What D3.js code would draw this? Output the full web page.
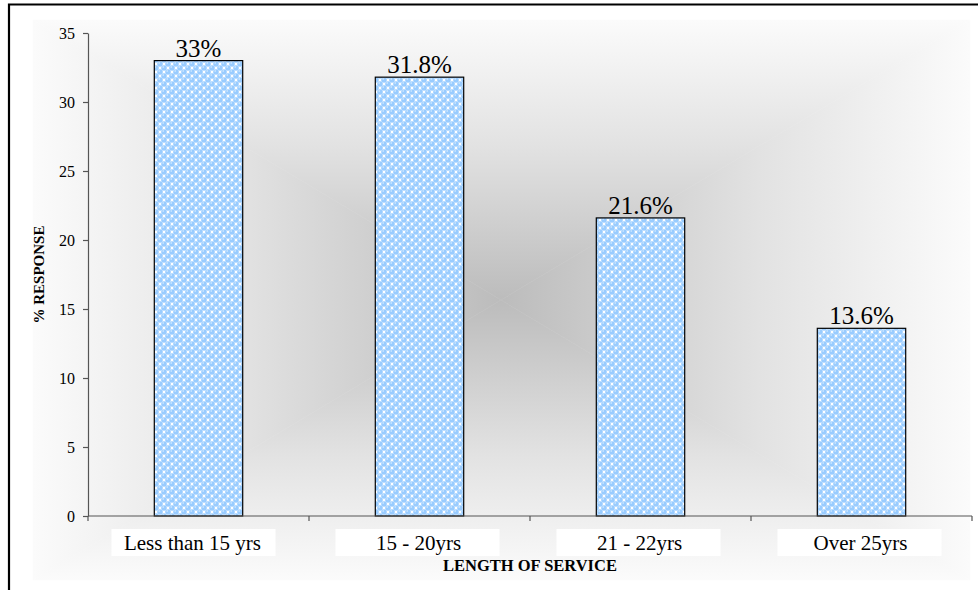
<!DOCTYPE html>
<html>
<head>
<meta charset="utf-8">
<script src="https://cdn.jsdelivr.net/npm/d3@7"></script>
<style>
  html, body { margin: 0; padding: 0; background: #ffffff; }
  svg { display: block; }
  svg text { font-family: "Liberation Serif", "DejaVu Serif", "Times New Roman", serif; }
</style>
</head>
<body>
<svg id="chart" width="978" height="590"></svg>
<script>
// Survey responses by length of service
const categories = ["Less than 15 yrs", "15 - 20yrs", "21 - 22yrs", "Over 25yrs"];
const responses = [33, 31.8, 21.6, 13.6];
const valueLabels = ["33%", "31.8%", "21.6%", "13.6%"];
const yTicks = [0, 5, 10, 15, 20, 25, 30, 35];

const svg = d3.select("#chart");
const W = 978, H = 590;
const serif = '"Liberation Serif", "DejaVu Serif", "Times New Roman", serif';

const margin = { left: 88, right: 6, top: 33, bottom: 74 };
const plot = { x0: margin.left, x1: W - margin.right, y0: margin.top, y1: H - margin.bottom };

const x = d3.scaleBand().domain(categories).range([plot.x0, plot.x1]).paddingInner(0).paddingOuter(0);
const y = d3.scaleLinear().domain([0, 35]).range([plot.y1, plot.y0]);

const defs = svg.append("defs");

// Sphere fill for the bars
const pat = defs.append("pattern")
  .attr("id", "spheres").attr("patternUnits", "userSpaceOnUse")
  .attr("width", 8).attr("height", 8);
pat.append("rect").attr("width", 8).attr("height", 8).attr("fill", "#ffffff");
[[0, 0], [8, 0], [0, 8], [8, 8], [4, 4]].forEach(([cx, cy]) => {
  pat.append("circle").attr("cx", cx).attr("cy", cy).attr("r", 2.8).attr("fill", "#99ccff");
  pat.append("circle").attr("cx", cx - 0.8).attr("cy", cy - 1).attr("r", 0.8).attr("fill", "#dcefff");
});

// Rectangular "from centre" shaded backdrop built from four triangles
const bg = { x0: 33, x1: 970, y0: 20, y1: 580 };
const cx = 501, cy = 300;
function lin(id, x1, y1, x2, y2) {
  const g = defs.append("linearGradient").attr("id", id).attr("gradientUnits", "userSpaceOnUse")
    .attr("x1", x1).attr("y1", y1).attr("x2", x2).attr("y2", y2);
  g.append("stop").attr("offset", 0).attr("stop-color", "#fbfbfb");
  g.append("stop").attr("offset", 0.45).attr("stop-color", "#e2e2e2");
  g.append("stop").attr("offset", 1).attr("stop-color", "#bcbcbc");
}
lin("gTop", cx, bg.y0, cx, cy);
lin("gBot", cx, bg.y1, cx, cy);
lin("gLeft", bg.x0, cy, cx, cy);
lin("gRight", bg.x1, cy, cx, cy);
const tri = [
  { id: "gTop", pts: [[bg.x0, bg.y0], [bg.x1, bg.y0], [cx, cy]] },
  { id: "gBot", pts: [[bg.x0, bg.y1], [bg.x1, bg.y1], [cx, cy]] },
  { id: "gLeft", pts: [[bg.x0, bg.y0], [bg.x0, bg.y1], [cx, cy]] },
  { id: "gRight", pts: [[bg.x1, bg.y0], [bg.x1, bg.y1], [cx, cy]] }
];
svg.append("g").selectAll("path").data(tri).join("path")
  .attr("d", d => "M" + d.pts.map(p => p.join(",")).join("L") + "Z")
  .attr("fill", d => `url(#${d.id})`)
  .attr("stroke", d => `url(#${d.id})`).attr("stroke-width", 0.6);

// Outer frame (only top and left edges fall inside the view)
svg.append("path")
  .attr("d", `M9,${H + 5}V4.5H${W + 5}`)
  .attr("fill", "none").attr("stroke", "#000").attr("stroke-width", 2.2);

// Category label boxes
const boxW = 164, boxH = 27;
svg.append("g").selectAll("rect").data(categories).join("rect")
  .attr("x", (d, i) => x(d) + x.bandwidth() / 2 - boxW / 2 - (i === 0 ? 5 : 2))
  .attr("y", plot.y1 + 13)
  .attr("width", boxW).attr("height", boxH)
  .attr("fill", "#ffffff");

// Bars
const barW = x.bandwidth() * 0.4;
svg.append("g").selectAll("rect").data(categories).join("rect")
  .attr("x", d => x(d) + (x.bandwidth() - barW) / 2)
  .attr("y", (d, i) => y(responses[i]))
  .attr("width", barW)
  .attr("height", (d, i) => y(0) - y(responses[i]))
  .attr("fill", "url(#spheres)")
  .attr("stroke", "#000").attr("stroke-width", 1.2);

// Value labels
svg.append("g").selectAll("text").data(categories).join("text")
  .attr("x", d => x(d) + x.bandwidth() / 2)
  .attr("y", (d, i) => y(responses[i]) - 4)
  .attr("text-anchor", "middle")
  .style("font-family", serif).attr("font-size", 25)
  .attr("fill", "#000")
  .text((d, i) => valueLabels[i]);

// Y axis
const yAxis = svg.append("g").attr("transform", `translate(${plot.x0},0)`)
  .call(d3.axisLeft(y).tickValues(yTicks).tickSize(5).tickSizeOuter(0).tickPadding(8));
yAxis.select(".domain").attr("stroke", "#555").attr("stroke-width", 1.2);
yAxis.selectAll(".tick line").attr("stroke", "#555").attr("stroke-width", 1.2);
yAxis.selectAll(".tick text").style("font-family", serif).attr("font-size", 16).attr("fill", "#000");

// X axis with ticks between categories
const bounds = categories.map(c => x(c)).concat([plot.x1]);
const xAxis = svg.append("g");
xAxis.append("line")
  .attr("x1", plot.x0).attr("x2", plot.x1).attr("y1", y(0)).attr("y2", y(0))
  .attr("stroke", "#555").attr("stroke-width", 1.2);
xAxis.selectAll("line.tk").data(bounds).join("line").attr("class", "tk")
  .attr("x1", d => d).attr("x2", d => d)
  .attr("y1", y(0)).attr("y2", y(0) + 5)
  .attr("stroke", "#555").attr("stroke-width", 1.2);
xAxis.selectAll("text").data(categories).join("text")
  .attr("x", (d, i) => x(d) + x.bandwidth() / 2 - (i === 0 ? 6 : 1))
  .attr("y", plot.y1 + 34)
  .attr("text-anchor", "middle")
  .style("font-family", serif).attr("font-size", 21).attr("fill", "#000")
  .text(d => d);

// Axis titles
svg.append("text")
  .attr("x", 530)
  .attr("y", plot.y1 + 55)
  .attr("text-anchor", "middle")
  .style("font-family", serif).attr("font-size", 16.5).attr("font-weight", "bold")
  .text("LENGTH OF SERVICE");

svg.append("text")
  .attr("transform", `translate(44,${(plot.y0 + plot.y1) / 2}) rotate(-90)`)
  .attr("text-anchor", "middle")
  .style("font-family", serif).attr("font-size", 15).attr("font-weight", "bold")
  .text("% RESPONSE");
</script>
</body>
</html>
